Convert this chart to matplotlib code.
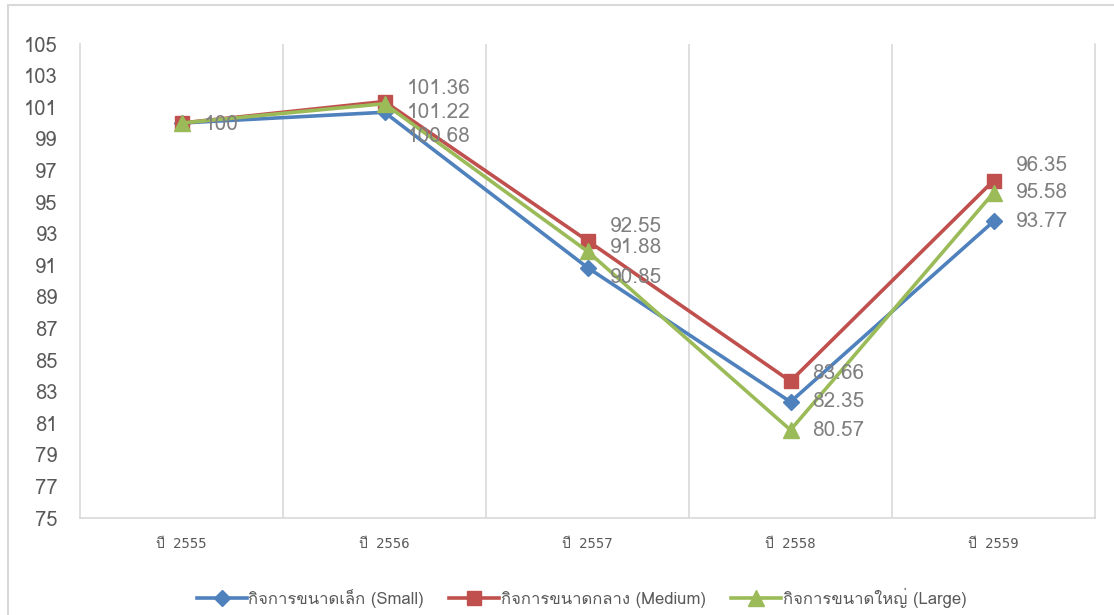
import matplotlib
matplotlib.use('Agg')
import matplotlib.pyplot as plt
from matplotlib import font_manager
from matplotlib.ft2font import FT2Font
from matplotlib.lines import Line2D

# หาฟอนต์ที่มีอักษรไทย
thai_fonts = []
for f in font_manager.fontManager.ttflist:
    try:
        if 0x0E1B in FT2Font(f.fname).get_charmap():
            if f.name not in thai_fonts:
                thai_fonts.append(f.name)
    except Exception:
        pass
plt.rcParams['font.family'] = thai_fonts + ['DejaVu Sans']

# ข้อมูล
years = ['ปี 2555', 'ปี 2556', 'ปี 2557', 'ปี 2558', 'ปี 2559']
small = [100, 100.68, 90.85, 82.35, 93.77]
medium = [100, 101.36, 92.55, 83.66, 96.35]
large = [100, 101.22, 91.88, 80.57, 95.58]
names = ['กิจการขนาดเล็ก (Small)', 'กิจการขนาดกลาง (Medium)', 'กิจการขนาดใหญ่ (Large)']

colors = ['#4F81BD', '#C0504D', '#9BBB59']
markers = ['D', 's', '^']
msizes = [8, 10, 11]

# ตำแหน่งป้ายข้อมูล (pixel offset แนวตั้ง)
dy_small = [None, 24, 10, 0, 0]
dy_medium = [2, -13, -14, -8, -15]
dy_large = [None, 9, -4, 1, 0]

fig = plt.figure(figsize=(11.14, 6.15), dpi=100)
# กรอบรอบรูป
fig.patches.append(plt.Rectangle((8 / 1114, -0.01), 1.0, 1 - 5 / 615 + 0.01,
                                 transform=fig.transFigure, fill=False,
                                 edgecolor='#d9d9d9', linewidth=1.5))
ax = fig.add_axes([80 / 1114, 1 - 518 / 615, (1095 - 80) / 1114, (518 - 44) / 615])

x = list(range(len(years)))
series = [small, medium, large]
dys = [dy_small, dy_medium, dy_large]
for vals, c, m, ms in zip(series, colors, markers, msizes):
    ax.plot(x, vals, color=c, marker=m, markersize=ms, linewidth=2.6)

for vals, dy in zip(series, dys):
    for i, v in enumerate(vals):
        if dy[i] is None:
            continue
        txt = '%g' % v
        ax.annotate(txt, (i, v), xytext=(22, -dy[i]), textcoords='offset pixels',
                    ha='left', va='center', fontsize=15, color='#7f7f7f')

ax.set_xlim(-0.5, 4.5)
ax.set_ylim(75, 105)
ax.set_yticks(range(75, 106, 2))
ax.set_xticks(x)
ax.set_xticklabels(years, fontsize=10, color='#595959',
                   family=['DejaVu Sans Mono'] + thai_fonts)
ax.set_xticks([0.5, 1.5, 2.5, 3.5], minor=True)
ax.grid(True, which='minor', axis='x', color='#d9d9d9', linewidth=1.2)
ax.tick_params(axis='y', labelsize=14.5, labelcolor='#595959', length=0, pad=16)
ax.tick_params(axis='x', which='both', length=0, pad=14)
for s in ['left', 'bottom', 'right']:
    ax.spines[s].set_color('#d9d9d9')
    ax.spines[s].set_linewidth(1.2)
ax.spines['top'].set_visible(False)

handles = [Line2D([], [], color=c, marker=m, markersize=ms, linewidth=2.6)
           for c, m, ms in zip(colors, markers, msizes)]
fig.legend(handles, names, loc='center', bbox_to_anchor=(0.522, 0.028), ncol=3,
           frameon=False, fontsize=12, labelcolor='#595959', handlelength=3,
           columnspacing=1.5, handletextpad=0.1)

fig.savefig('out.png', dpi=100)
